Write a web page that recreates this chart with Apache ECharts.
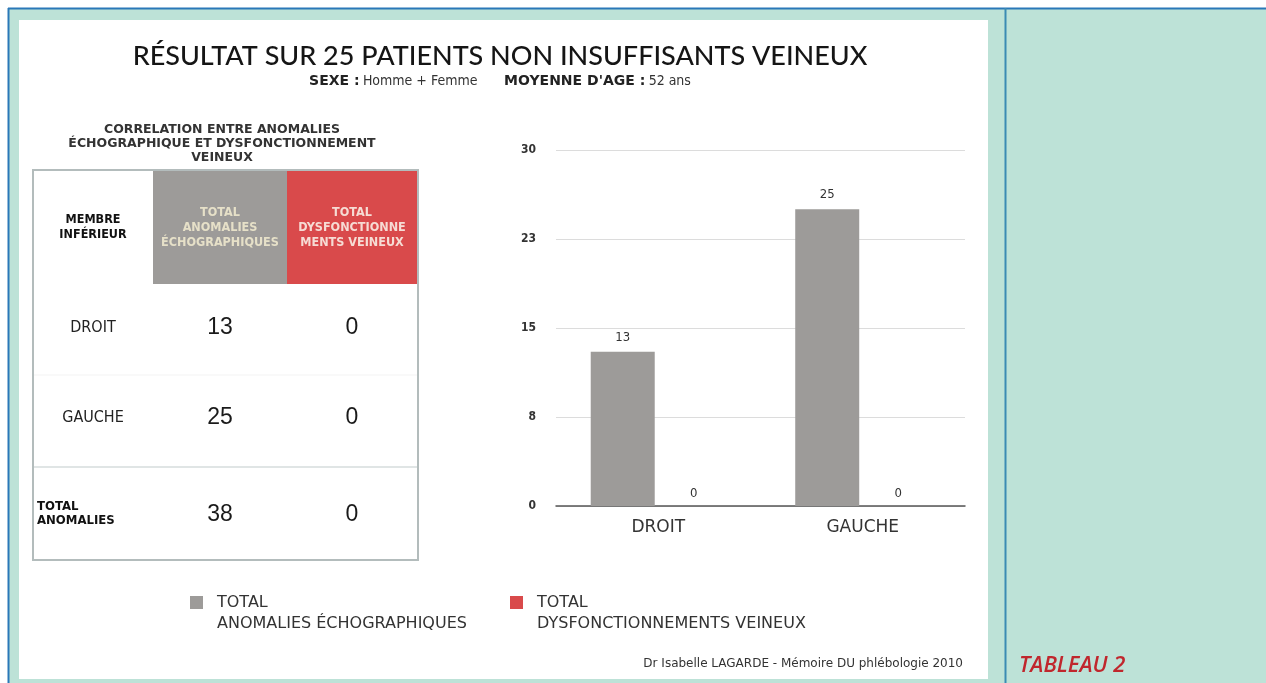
<!DOCTYPE html>
<html>
<head>
<meta charset="utf-8">
<script src="https://cdn.jsdelivr.net/npm/echarts@6/dist/echarts.min.js"></script>
<style>
  html, body { margin: 0; padding: 0; background: #fff; }
  #chart { width: 1266px; height: 683px; }
</style>
</head>
<body>
<div id="chart"></div>
<script>
// données du tableau 2
const membres = ['DROIT', 'GAUCHE'];
const anomaliesEcho = [13, 25];
const dysfonctionnements = [0, 0];
const yTicks = [0, 8, 15, 23, 30];

const serieNames = ['TOTAL\nANOMALIES ÉCHOGRAPHIQUES', 'TOTAL\nDYSFONCTIONNEMENTS VEINEUX'];
const colors = ['#9d9b99', '#d94a4b'];

const totalEcho = anomaliesEcho.reduce((a, b) => a + b, 0);
const totalDys = dysfonctionnements.reduce((a, b) => a + b, 0);

const myChart = echarts.init(document.getElementById('chart'));

const narrow = '"DejaVu Sans Condensed", "Liberation Sans", sans-serif';
const wide = '"DejaVu Sans", sans-serif';
const titleFont = 'Lato, "Open Sans", sans-serif';

// cadre de la page
const frame = [
    {type: 'rect', shape: {x: 8, y: 8, width: 1258, height: 675}, style: {fill: '#bde2d7'}, z: -10},
    {type: 'line', shape: {x1: 8, y1: 8.5, x2: 1266, y2: 8.5}, style: {stroke: '#2a78b8', lineWidth: 2}, z: -9},
    {type: 'line', shape: {x1: 8.5, y1: 8, x2: 8.5, y2: 683}, style: {stroke: '#2a78b8', lineWidth: 2}, z: -9},
    {type: 'line', shape: {x1: 1005.5, y1: 8, x2: 1005.5, y2: 683}, style: {stroke: '#3b8bb3', lineWidth: 2}, z: -9},
    {type: 'rect', shape: {x: 19, y: 20, width: 969, height: 659}, style: {fill: '#ffffff'}, z: -9},
    {type: 'text', x: 1019, y: 666, style: {text: 'TABLEAU 2', fill: '#c0272d', font: 'italic 600 22px "Open Sans", sans-serif', textVerticalAlign: 'middle'}},
];

// titres
const titles = [
    {type: 'text', x: 500, y: 56, style: {text: 'RÉSULTAT SUR 25 PATIENTS NON INSUFFISANTS VEINEUX', fill: '#151515', font: '500 27px ' + titleFont, textAlign: 'center', textVerticalAlign: 'middle'}},
    {type: 'text', x: 500, y: 81, style: {
        text: '{b|SEXE :} {n|Homme + Femme}        {b|MOYENNE D\'AGE :} {n|52 ans}',
        textAlign: 'center', textVerticalAlign: 'middle',
        rich: {
            b: {font: 'bold 14px ' + wide, fill: '#222'},
            n: {font: '14px ' + narrow, fill: '#333'},
        },
    }},
    {type: 'text', x: 222, y: 144, style: {
        text: 'CORRELATION ENTRE ANOMALIES\nÉCHOGRAPHIQUE ET DYSFONCTIONNEMENT\nVEINEUX',
        fill: '#333', font: 'bold 12.5px ' + wide, textAlign: 'center', textVerticalAlign: 'middle', lineHeight: 14,
    }},
    {type: 'text', x: 963, y: 664, style: {text: 'Dr Isabelle LAGARDE - Mémoire DU phlébologie 2010', fill: '#333', font: '12px ' + wide, textAlign: 'right', textVerticalAlign: 'middle'}},
];

// tableau de gauche
const rowY = [328, 418];
const colX = [93, 220, 352];
const numFont = '23px "Liberation Sans", sans-serif';
const table = [
    {type: 'rect', shape: {x: 153, y: 170, width: 134, height: 114}, style: {fill: colors[0]}},
    {type: 'rect', shape: {x: 287, y: 170, width: 131, height: 114}, style: {fill: colors[1]}},
    {type: 'line', shape: {x1: 33, y1: 467, x2: 418, y2: 467}, style: {stroke: '#d6dcdc', lineWidth: 1.5}},
    {type: 'line', shape: {x1: 33, y1: 375, x2: 418, y2: 375}, style: {stroke: '#f3f3f3', lineWidth: 1}},
    {type: 'rect', shape: {x: 33, y: 170, width: 385, height: 390}, style: {fill: 'none', stroke: '#b3bcbc', lineWidth: 2}},
    {type: 'text', x: colX[0], y: 227, style: {text: 'MEMBRE\nINFÉRIEUR', fill: '#111', font: 'bold 12.5px ' + narrow, textAlign: 'center', textVerticalAlign: 'middle', lineHeight: 15}},
    {type: 'text', x: colX[1], y: 228, style: {text: 'TOTAL\nANOMALIES\nÉCHOGRAPHIQUES', fill: '#e6e0c8', font: 'bold 12.5px ' + narrow, textAlign: 'center', textVerticalAlign: 'middle', lineHeight: 15}},
    {type: 'text', x: colX[2], y: 228, style: {text: 'TOTAL\nDYSFONCTIONNE\nMENTS VEINEUX', fill: '#f6dcd4', font: 'bold 12.5px ' + narrow, textAlign: 'center', textVerticalAlign: 'middle', lineHeight: 15}},
    {type: 'text', x: 37, y: 514, style: {text: 'TOTAL\nANOMALIES', fill: '#111', font: 'bold 13px ' + narrow, textAlign: 'left', textVerticalAlign: 'middle', lineHeight: 14}},
    {type: 'text', x: colX[1], y: 515, style: {text: String(totalEcho), fill: '#1a1a1a', font: numFont, textAlign: 'center', textVerticalAlign: 'middle'}},
    {type: 'text', x: colX[2], y: 515, style: {text: String(totalDys), fill: '#1a1a1a', font: numFont, textAlign: 'center', textVerticalAlign: 'middle'}},
];
membres.forEach((m, i) => {
    table.push({type: 'text', x: colX[0], y: rowY[i], style: {text: m, fill: '#222', font: '16px ' + narrow, textAlign: 'center', textVerticalAlign: 'middle'}});
    table.push({type: 'text', x: colX[1], y: rowY[i], style: {text: String(anomaliesEcho[i]), fill: '#1a1a1a', font: numFont, textAlign: 'center', textVerticalAlign: 'middle'}});
    table.push({type: 'text', x: colX[2], y: rowY[i], style: {text: String(dysfonctionnements[i]), fill: '#1a1a1a', font: numFont, textAlign: 'center', textVerticalAlign: 'middle'}});
});

// légende
const legendX = [190, 510];
const legend = [];
serieNames.forEach((n, i) => {
    legend.push({type: 'rect', shape: {x: legendX[i], y: 596, width: 13, height: 13}, style: {fill: colors[i]}});
    legend.push({type: 'text', x: legendX[i] + 27, y: 592, style: {text: n, fill: '#333', font: '16px ' + wide, lineHeight: 21}});
});

const option = {
    animation: false,
    backgroundColor: '#ffffff',
    grid: {left: 556, right: 301, top: 150, bottom: 177},
    xAxis: {
        type: 'category',
        data: membres,
        axisLine: {lineStyle: {color: '#555', width: 1.5}},
        axisTick: {show: false},
        axisLabel: {color: '#333', fontSize: 17, margin: 13, fontFamily: wide},
    },
    yAxis: {
        type: 'value',
        min: 0,
        max: 30,
        interval: 7.5,
        axisLine: {show: false},
        axisTick: {show: false},
        splitLine: {lineStyle: {color: '#dcdcdc'}},
        axisLabel: {
            color: '#333', fontSize: 12, fontWeight: 'bold', margin: 20, fontFamily: narrow,
            formatter: (v) => String(yTicks[Math.round(v / 7.5)]),
        },
    },
    series: [
        {
            name: serieNames[0],
            type: 'bar',
            data: anomaliesEcho,
            barWidth: 64,
            barGap: '11%',
            itemStyle: {color: colors[0]},
            label: {show: true, position: 'top', distance: 8, color: '#333', fontSize: 13, fontFamily: narrow},
        },
        {
            name: serieNames[1],
            type: 'bar',
            data: dysfonctionnements,
            barWidth: 64,
            itemStyle: {color: colors[1]},
            label: {show: true, position: 'top', distance: 6, color: '#333', fontSize: 13, fontFamily: narrow},
        },
    ],
    graphic: [].concat(frame, titles, table, legend),
};
myChart.setOption(option);
</script>
</body>
</html>
